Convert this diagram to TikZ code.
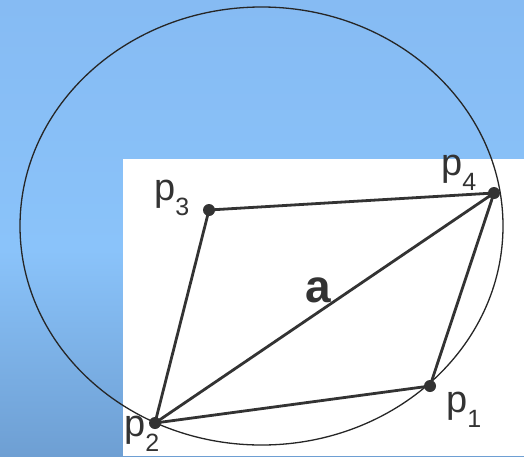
\documentclass[tikz,border=0pt]{standalone}
\usepackage{fontspec}
\setmainfont{Liberation Sans}
\usepackage{xcolor}
\usetikzlibrary{positioning}
\definecolor{skytop}{HTML}{86BBF3}
\definecolor{skymid}{HTML}{8AC3FA}
\definecolor{skybot}{HTML}{6E9FD3}
\definecolor{edgegray}{HTML}{333333}
\newcommand{\ptlabel}[1]{p\raisebox{-15pt}{\fontsize{25}{25}\selectfont #1}}

\begin{document}
\begin{tikzpicture}[
  x=1pt, y=-1pt,
  dot/.style={circle, fill=edgegray, inner sep=0pt, minimum size=12pt},
  lbl/.style={anchor=base west, inner sep=0pt, text=edgegray, font=\fontsize{38}{38}\selectfont},
  edge/.style={draw=edgegray, line width=2.8pt, line cap=round},
]
\useasboundingbox (0,0) rectangle (524,456);
% background
\shade[top color=skytop, bottom color=skymid] (0,0) rectangle (524,250);
\shade[top color=skymid, bottom color=skybot] (0,250) rectangle (524,456);
\fill[white] (123,159) rectangle (524,456);
% circle through the points
\draw[line width=1.3pt, draw=black!85] (261.5,226) ellipse [x radius=241.5, y radius=219];
% nodes
\node[dot] (P1) at (430,386) {};
\node[dot] (P2) at (155,423) {};
\node[dot] (P3) at (209,210) {};
\node[dot] (P4) at (494,193) {};
% edges
\draw[edge] (P3.center) -- (P4.center);
\draw[edge] (P3.center) -- (P2.center);
\draw[edge] (P2.center) -- (P4.center);
\draw[edge] (P2.center) -- (P1.center);
\draw[edge] (P1.center) -- (P4.center);
% labels
\node[lbl] (L1) at (446,412) {\ptlabel{1}};
\node[lbl] (L2) at (124,436) {\ptlabel{2}};
\node[lbl] (L3) at (154,200) {\ptlabel{3}};
\node[lbl] (L4) at (441,175) {\ptlabel{4}};
\node[lbl, font=\fontsize{46}{46}\selectfont\bfseries] (A) at (305,302) {a};
\end{tikzpicture}
\end{document}
